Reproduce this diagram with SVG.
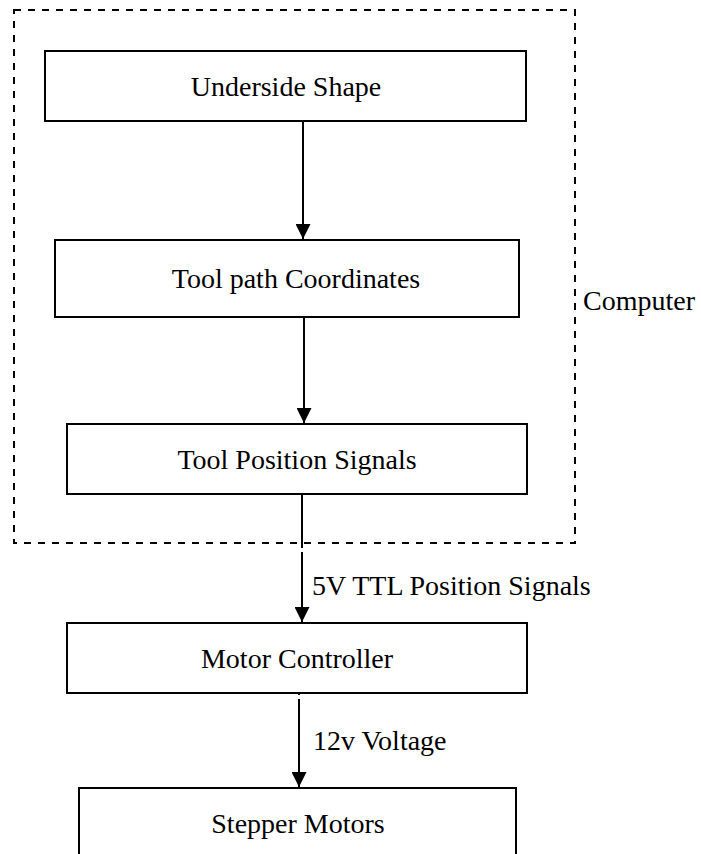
<svg xmlns="http://www.w3.org/2000/svg" width="701" height="854" viewBox="0 0 701 854">
<style>
.box{fill:#fff;stroke:#000;stroke-width:2}
.t{font-family:"Liberation Serif","Times New Roman",serif;font-size:28px;fill:#000}
.c{text-anchor:middle}
.line{stroke:#000;stroke-width:2;fill:none}
.dash{stroke:#000;stroke-width:2;fill:none;stroke-dasharray:7 7}
</style>
<defs>
<marker id="ah" markerWidth="15" markerHeight="15" refX="15" refY="7.5" orient="auto" markerUnits="userSpaceOnUse">
<path d="M0,0 L15,7.5 L0,15 Z" fill="#000"/>
</marker>
</defs>
<g id="computer">
<rect class="dash" x="14" y="10" width="561" height="533"/>
<text class="t" x="583" y="310">Computer</text>
</g>
<g id="connectors">
<line class="line" x1="303" y1="121" x2="303" y2="239" marker-end="url(#ah)"/>
<line class="line" x1="304" y1="317" x2="304" y2="423" marker-end="url(#ah)"/>
<line class="line" x1="302" y1="494" x2="302" y2="622" marker-end="url(#ah)"/>
<line x1="302" y1="548" x2="302" y2="552" stroke="#fff" stroke-width="3"/>
<line class="line" x1="299" y1="693" x2="299" y2="787" marker-end="url(#ah)"/>
<line x1="299" y1="695" x2="299" y2="699" stroke="#fff" stroke-width="3"/>
<text class="t" x="312" y="595">5V TTL Position Signals</text>
<text class="t" x="313" y="750">12v Voltage</text>
</g>
<g id="underside">
<rect class="box" x="45" y="51" width="481" height="70"/>
<text class="t c" x="286" y="96">Underside Shape</text>
</g>
<g id="toolpath">
<rect class="box" x="55" y="240" width="464" height="77"/>
<text class="t c" x="296" y="288">Tool path Coordinates</text>
</g>
<g id="toolpos">
<rect class="box" x="67" y="424" width="460" height="70"/>
<text class="t c" x="297" y="469">Tool Position Signals</text>
</g>
<g id="motorctl">
<rect class="box" x="67" y="623" width="460" height="70"/>
<text class="t c" x="297" y="668">Motor Controller</text>
</g>
<g id="stepper">
<rect class="box" x="79" y="788" width="437" height="80"/>
<text class="t c" x="298" y="833">Stepper Motors</text>
</g>
</svg>
